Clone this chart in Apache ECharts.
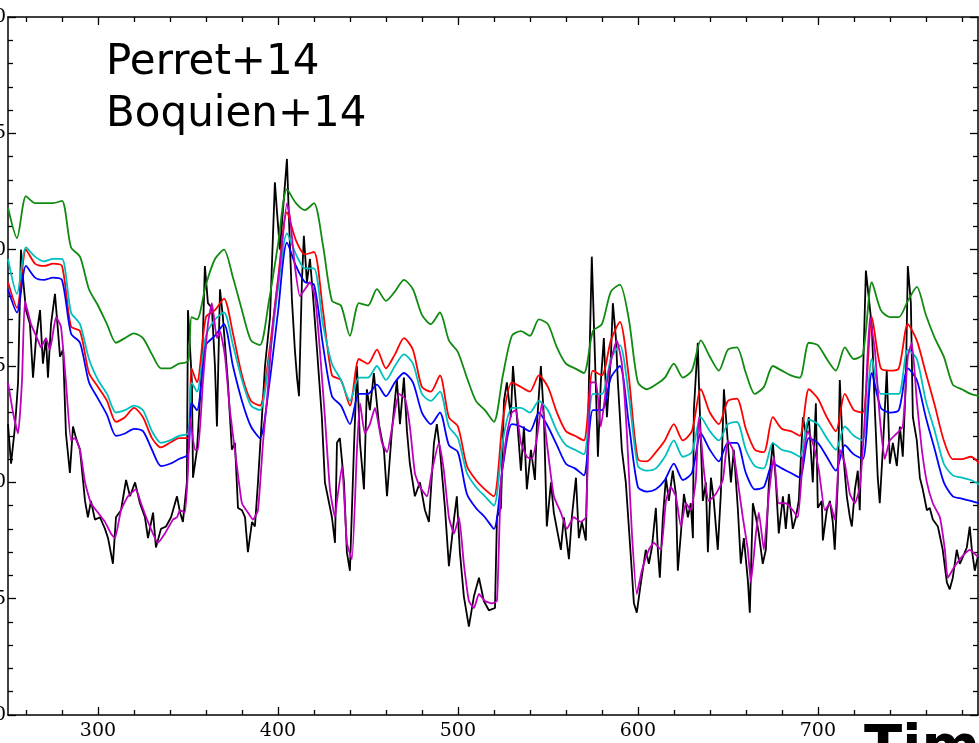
<!DOCTYPE html>
<html><head><meta charset="utf-8">
<script src="https://cdn.jsdelivr.net/npm/echarts@6/dist/echarts.min.js"></script>
<style>html,body{margin:0;padding:0;background:#fff}#c{width:979px;height:743px}</style>
</head><body><div id="c"></div><script>
// time axis (Myr) for the smooth model curves
const timeModel=[250,255,260,265,270,275,280,285,290,295,300,305,310,315,320,325,330,335,340,345,350,352,355,360,365,370,375,380,385,390,395,400,405,410,415,420,425,430,435,440,445,450,455,460,465,470,475,480,485,490,495,500,505,510,515,520,525,530,535,540,545,550,555,560,565,570,575,580,585,590,595,600,605,610,615,620,625,630,635,640,645,650,655,660,665,670,675,680,685,690,695,700,705,710,715,720,725,730,735,740,745,750,755,760,765,770,775,780,785,790];
const greenVals=[2.18,2.05,2.23,2.20,2.20,2.20,2.21,2.01,1.97,1.83,1.76,1.68,1.60,1.62,1.64,1.62,1.55,1.49,1.49,1.51,1.52,1.71,1.70,1.85,1.96,2.00,1.88,1.74,1.61,1.59,1.78,2.02,2.26,2.20,2.17,2.20,2.02,1.78,1.76,1.63,1.77,1.76,1.83,1.78,1.82,1.87,1.83,1.72,1.68,1.73,1.61,1.56,1.45,1.35,1.31,1.26,1.46,1.63,1.65,1.63,1.70,1.68,1.58,1.51,1.49,1.47,1.65,1.68,1.82,1.85,1.70,1.43,1.40,1.42,1.45,1.51,1.45,1.48,1.61,1.54,1.48,1.57,1.58,1.47,1.38,1.41,1.50,1.48,1.46,1.45,1.60,1.59,1.53,1.48,1.58,1.53,1.55,1.86,1.74,1.71,1.71,1.78,1.84,1.72,1.62,1.54,1.42,1.40,1.38,1.37];
const redVals=[1.86,1.75,2.00,1.94,1.93,1.94,1.93,1.67,1.65,1.47,1.41,1.35,1.26,1.28,1.32,1.28,1.19,1.15,1.17,1.19,1.19,1.49,1.43,1.71,1.74,1.79,1.64,1.46,1.35,1.33,1.55,1.87,2.16,2.04,1.98,1.99,1.74,1.46,1.44,1.33,1.53,1.51,1.57,1.49,1.55,1.62,1.57,1.41,1.39,1.46,1.28,1.24,1.07,1.01,0.97,0.94,1.27,1.43,1.41,1.39,1.46,1.41,1.30,1.22,1.20,1.18,1.48,1.46,1.61,1.69,1.45,1.10,1.09,1.13,1.18,1.25,1.18,1.22,1.40,1.30,1.25,1.35,1.36,1.23,1.14,1.13,1.28,1.23,1.22,1.20,1.40,1.36,1.28,1.22,1.38,1.31,1.30,1.71,1.49,1.48,1.49,1.68,1.61,1.47,1.33,1.18,1.10,1.10,1.11,1.08];
const cyanVals=[1.96,1.81,2.01,1.97,1.95,1.96,1.96,1.73,1.68,1.53,1.44,1.38,1.30,1.31,1.33,1.31,1.22,1.17,1.18,1.20,1.21,1.43,1.39,1.63,1.70,1.73,1.59,1.44,1.33,1.31,1.52,1.83,2.07,1.98,1.92,1.92,1.68,1.51,1.44,1.35,1.45,1.45,1.50,1.44,1.50,1.55,1.51,1.38,1.35,1.39,1.24,1.19,1.04,0.98,0.94,0.90,1.18,1.32,1.32,1.30,1.35,1.31,1.22,1.16,1.14,1.12,1.38,1.38,1.53,1.59,1.37,1.07,1.05,1.06,1.11,1.18,1.11,1.13,1.28,1.22,1.18,1.25,1.26,1.14,1.07,1.06,1.17,1.14,1.13,1.11,1.27,1.25,1.19,1.14,1.24,1.20,1.18,1.53,1.38,1.38,1.38,1.57,1.53,1.35,1.22,1.08,1.03,1.02,1.01,0.99];
const blueVals=[1.83,1.73,1.93,1.88,1.87,1.88,1.87,1.64,1.60,1.43,1.36,1.29,1.20,1.21,1.23,1.22,1.14,1.07,1.08,1.10,1.12,1.34,1.31,1.59,1.63,1.68,1.50,1.35,1.24,1.19,1.41,1.73,2.03,1.93,1.86,1.85,1.59,1.37,1.33,1.25,1.38,1.38,1.42,1.37,1.43,1.47,1.43,1.30,1.25,1.30,1.16,1.13,0.95,0.89,0.85,0.80,1.07,1.25,1.24,1.22,1.30,1.24,1.16,1.08,1.06,1.03,1.31,1.31,1.45,1.50,1.25,0.98,0.96,0.97,1.01,1.08,1.01,1.04,1.21,1.14,1.09,1.17,1.17,1.04,0.97,0.98,1.08,1.06,1.04,1.02,1.19,1.17,1.11,1.05,1.16,1.12,1.10,1.47,1.32,1.30,1.31,1.49,1.44,1.28,1.14,1.00,0.94,0.93,0.92,0.91];
// [time, value]
const magentaPts=[[250.0,1.43],[252.8,1.30],[255.6,1.21],[257.8,1.44],[259.4,1.78],[262.8,1.68],[266.7,1.61],[268.3,1.58],[271.1,1.62],[273.3,1.57],[276.7,1.71],[279.4,1.67],[282.2,1.43],[285.0,1.18],[287.2,1.19],[290.0,1.14],[292.8,1.00],[296.1,0.91],[300.0,0.87],[303.9,0.83],[307.2,0.78],[309.4,0.76],[312.8,0.88],[316.7,0.94],[321.1,0.97],[323.9,0.91],[327.8,0.83],[333.3,0.74],[337.2,0.78],[341.7,0.84],[343.9,0.85],[345.6,0.88],[348.3,0.87],[350.0,1.05],[351.1,1.28],[353.9,1.14],[355.6,1.14],[358.3,1.43],[361.1,1.68],[363.3,1.77],[366.1,1.62],[367.8,1.65],[370.6,1.54],[373.3,1.31],[377.2,1.07],[380.0,0.91],[383.3,0.87],[386.1,0.84],[388.9,0.88],[391.7,1.17],[394.4,1.40],[397.2,1.68],[401.1,1.93],[405.0,2.20],[406.7,2.14],[409.4,1.93],[412.2,1.80],[415.0,1.83],[417.8,1.86],[420.6,1.80],[423.3,1.57],[426.1,1.28],[428.9,0.97],[431.7,0.85],[432.8,0.92],[435.6,1.07],[438.3,0.74],[441.1,0.67],[443.9,1.14],[445.6,1.34],[448.3,1.21],[451.1,1.25],[453.9,1.32],[457.8,1.17],[460.6,1.13],[464.4,1.28],[467.2,1.38],[470.6,1.36],[473.3,1.24],[476.1,1.04],[478.9,0.98],[482.8,0.94],[485.6,1.05],[489.4,1.17],[492.2,1.05],[495.0,0.85],[497.8,0.78],[500.6,0.85],[503.3,0.65],[506.1,0.49],[508.9,0.46],[511.7,0.52],[515.0,0.49],[518.9,0.48],[521.7,0.49],[523.9,1.00],[527.2,1.21],[530.0,1.30],[532.2,1.31],[535.0,1.17],[538.3,1.11],[541.1,1.10],[543.9,1.19],[546.7,1.34],[549.4,1.17],[553.3,0.94],[557.2,0.87],[560.6,0.80],[564.4,0.85],[568.3,0.83],[571.1,0.85],[573.9,1.43],[576.7,1.43],[579.4,1.24],[582.8,1.43],[585.6,1.54],[588.3,1.61],[591.1,1.51],[593.9,1.21],[596.7,0.78],[599.4,0.52],[602.2,0.62],[606.1,0.71],[608.9,0.74],[612.8,0.71],[615.6,0.92],[618.3,0.98],[621.1,0.94],[623.9,0.81],[626.7,0.91],[629.4,0.88],[632.2,1.01],[633.9,1.28],[636.7,1.05],[639.4,0.92],[643.3,0.95],[647.2,1.01],[650.0,1.18],[652.8,1.14],[655.6,1.00],[658.3,0.85],[661.1,0.71],[662.8,0.57],[665.6,0.78],[667.2,0.87],[670.0,0.71],[672.8,0.95],[675.6,1.11],[678.3,0.91],[682.2,0.91],[686.1,0.88],[688.9,0.85],[691.7,1.10],[694.4,1.22],[697.2,1.17],[700.6,1.05],[703.9,0.88],[706.7,0.91],[709.4,0.84],[712.2,1.14],[715.0,1.08],[717.8,0.95],[720.6,0.91],[723.3,0.98],[726.1,1.28],[728.9,1.71],[731.7,1.57],[734.4,1.28],[737.2,1.10],[740.0,1.18],[743.9,1.21],[747.2,1.24],[750.0,1.54],[752.2,1.60],[755.0,1.35],[757.8,1.14],[760.6,1.00],[763.9,0.91],[767.8,0.85],[770.6,0.71],[772.2,0.59],[776.1,0.64],[780.0,0.68],[784.4,0.71],[788.9,0.68]];
const blackPts=[[250.0,1.25],[251.7,1.08],[253.9,1.24],[255.6,1.43],[257.2,2.00],[258.3,1.88],[260.0,1.74],[262.2,1.68],[263.9,1.45],[265.6,1.62],[267.8,1.74],[269.4,1.51],[271.1,1.62],[272.2,1.45],[273.9,1.68],[276.1,1.81],[277.8,1.65],[278.9,1.54],[280.6,1.57],[282.2,1.21],[284.4,1.04],[286.1,1.24],[287.8,1.19],[290.0,1.14],[292.8,0.92],[294.4,0.85],[296.1,0.92],[298.3,0.84],[301.1,0.85],[303.9,0.80],[305.6,0.76],[308.3,0.65],[310.0,0.85],[312.8,0.88],[315.6,1.01],[317.8,0.94],[320.6,1.00],[323.3,0.91],[326.1,0.85],[327.8,0.76],[330.6,0.87],[332.2,0.72],[335.0,0.80],[337.8,0.81],[340.6,0.85],[343.9,0.94],[345.6,0.87],[347.2,0.83],[349.4,1.00],[350.0,1.74],[352.2,1.43],[352.8,1.02],[355.0,1.14],[357.8,1.50],[359.4,1.93],[361.1,1.77],[363.3,1.75],[365.0,1.50],[366.1,1.24],[367.8,1.83],[369.4,1.71],[372.2,1.43],[374.4,1.14],[376.1,1.17],[377.8,0.89],[380.0,0.88],[381.7,0.85],[383.3,0.70],[385.6,0.83],[387.2,0.81],[388.9,1.00],[391.1,1.28],[392.8,1.50],[395.6,1.71],[398.3,2.29],[399.4,2.17],[401.1,2.00],[402.8,2.17],[405.0,2.39],[406.1,2.14],[407.8,1.78],[409.4,1.57],[410.6,1.45],[411.7,1.37],[413.3,1.86],[414.4,2.06],[416.1,1.86],[417.8,1.96],[419.4,1.81],[421.7,1.57],[424.4,1.28],[426.1,1.00],[430.0,0.85],[431.7,0.74],[432.8,1.17],[434.4,1.19],[436.7,1.00],[438.3,0.70],[440.0,0.62],[442.2,1.14],[443.9,1.50],[445.6,1.17],[447.8,0.97],[449.4,1.40],[451.1,1.31],[453.3,1.47],[456.1,1.25],[458.9,1.14],[460.6,0.94],[463.3,1.22],[466.1,1.44],[467.8,1.25],[470.0,1.45],[471.7,1.22],[473.3,1.08],[476.1,0.94],[478.9,1.00],[481.7,0.88],[483.9,0.83],[486.7,1.17],[488.3,1.25],[490.0,1.14],[492.8,0.89],[495.0,0.64],[497.8,0.84],[499.4,0.94],[501.1,0.70],[503.3,0.51],[506.1,0.38],[508.9,0.51],[511.7,0.59],[514.4,0.49],[517.2,0.45],[520.6,0.46],[521.7,0.85],[523.9,0.89],[525.6,1.35],[527.2,1.43],[529.4,1.28],[530.6,1.50],[532.8,1.28],[535.0,1.05],[536.7,1.24],[538.3,0.97],[540.6,1.14],[542.8,1.01],[543.9,1.25],[546.1,1.50],[547.8,1.28],[549.4,0.81],[551.7,1.00],[553.3,0.87],[555.0,0.80],[557.2,0.71],[558.9,0.85],[561.7,0.67],[563.3,0.85],[565.6,1.02],[567.2,0.76],[568.9,0.83],[571.1,0.75],[572.8,1.43],[574.4,1.97],[576.7,1.40],[577.8,1.11],[579.4,1.43],[581.1,1.62],[582.8,1.28],[585.0,1.54],[586.1,1.77],[587.8,1.62],[588.9,1.43],[591.1,1.14],[593.3,1.00],[596.1,0.68],[597.8,0.48],[599.4,0.44],[601.7,0.57],[604.4,0.71],[606.1,0.65],[607.8,0.72],[610.0,0.89],[611.1,0.71],[612.2,0.59],[613.9,0.85],[615.6,1.02],[617.2,0.92],[619.4,1.05],[621.1,0.95],[622.2,0.62],[623.9,0.78],[625.6,0.95],[627.8,0.85],[629.4,0.91],[630.6,0.76],[631.1,1.31],[633.3,1.60],[633.9,1.43],[636.1,0.92],[637.8,1.00],[638.9,0.70],[640.6,1.02],[642.2,0.92],[644.4,0.71],[646.1,0.95],[647.8,1.40],[650.0,1.17],[651.7,1.00],[653.3,1.14],[655.6,0.88],[657.2,0.65],[658.9,0.76],[661.1,0.58],[662.2,0.44],[663.9,0.91],[665.6,0.85],[667.2,0.78],[669.4,0.65],[671.1,0.71],[672.8,1.00],[675.0,1.17],[676.7,1.00],[678.3,0.78],[680.6,0.94],[682.2,0.80],[683.9,0.95],[686.1,0.80],[687.8,0.85],[689.4,0.92],[691.7,1.28],[693.3,1.21],[695.0,1.28],[697.2,1.00],[698.9,1.34],[700.0,0.89],[702.2,0.92],[702.8,0.75],[705.0,0.88],[706.7,0.92],[708.3,0.83],[709.4,0.71],[711.1,1.00],[712.2,1.44],[713.9,1.14],[716.1,0.94],[717.8,0.85],[718.9,0.81],[720.6,0.97],[722.2,1.05],[723.3,0.88],[725.0,1.43],[726.7,1.91],[727.8,1.83],[730.0,1.67],[731.7,1.31],[733.3,1.02],[734.4,0.91],[736.1,1.14],[738.3,1.48],[740.0,1.08],[741.7,1.17],[743.9,1.07],[745.6,1.24],[747.2,1.11],[748.9,1.43],[750.0,1.93],[751.7,1.77],[752.8,1.28],[755.0,1.18],[756.7,1.02],[758.3,0.97],[760.6,0.88],[762.2,0.89],[763.9,0.84],[766.7,0.81],[769.4,0.71],[771.7,0.57],[773.3,0.54],[775.0,0.59],[777.2,0.71],[778.9,0.65],[780.6,0.68],[782.8,0.72],[784.4,0.81],[785.6,0.71],[787.2,0.62],[788.9,0.68]];
const xMajorTicks=[300,400,500,600,700];
const xMinorTicks=[260,280,320,340,360,380,420,440,460,480,520,540,560,580,620,640,660,680,720,740,760,780];
const notes=['Perret+14','Boquien+14'];
const xTitle='Time';

const chart=echarts.init(document.getElementById('c'),null,{renderer:'canvas'});
const axCol='#000';
const labelFont={color:'#000',fontFamily:'DejaVu Serif',fontSize:19};
function xAx(pos,vals,len,line,labels){
  return {type:'value',position:pos,min:250,max:789,
    axisLine:{show:line,onZero:false,lineStyle:{color:axCol,width:1.5}},
    axisTick:{show:true,inside:true,length:len,customValues:vals,lineStyle:{color:axCol,width:1.3}},
    axisLabel:labels?Object.assign({show:true,customValues:vals,margin:7},labelFont):{show:false},
    splitLine:{show:false}};
}
function yAx(pos,labels){
  return {type:'value',position:pos,min:0,max:3,interval:0.5,
    axisLine:{show:true,onZero:false,lineStyle:{color:axCol,width:1.5}},
    axisTick:{show:true,inside:true,length:8,lineStyle:{color:axCol,width:1.3}},
    minorTick:{show:true,splitNumber:5,length:5,lineStyle:{color:axCol,width:1.3}},
    axisLabel:labels?Object.assign({show:true,margin:2,formatter:v=>v.toFixed(1)},labelFont):{show:false},
    splitLine:{show:false},minorSplitLine:{show:false}};
}
function pair(ts,vs){return ts.map((t,i)=>[t,vs[i]]);}
function line(name,data,color,w,smooth){
  return {name,type:'line',data,showSymbol:false,symbol:'none',clip:true,
    smooth:smooth,
    lineStyle:{color,width:w},itemStyle:{color},z:2};
}
chart.setOption({
  animation:false,
  backgroundColor:'#fff',
  grid:{left:8,right:1,top:17,bottom:28,containLabel:false,outerBoundsMode:'none'},
  xAxis:[xAx('bottom',xMajorTicks,8,true,true),xAx('bottom',xMinorTicks,5,false,false),
         xAx('top',xMajorTicks,8,true,false),xAx('top',xMinorTicks,5,false,false)],
  yAxis:[yAx('left',true),yAx('right',false)],
  series:[
    line('data',blackPts,'#000000',1.8,false),
    line('green',pair(timeModel,greenVals),'#108a10',1.8,0.25),
    line('red',pair(timeModel,redVals),'#ff0000',1.8,0.25),
    line('cyan',pair(timeModel,cyanVals),'#00bfbf',1.8,0.25),
    line('blue',pair(timeModel,blueVals),'#0000ff',1.8,0.25),
    line('magenta',magentaPts,'#bf00bf',1.8,0.15)
  ],
  graphic:[
    {type:'text',left:106,top:42,style:{text:notes[0],font:'42px "DejaVu Sans"',fill:'#000'}},
    {type:'text',left:106,top:94,style:{text:notes[1],font:'42px "DejaVu Sans"',fill:'#000'}},
    {type:'text',left:864,top:721,style:{text:xTitle,font:'bold 56px "DejaVu Sans"',fill:'#000'}}
  ]
});
</script></body></html>
